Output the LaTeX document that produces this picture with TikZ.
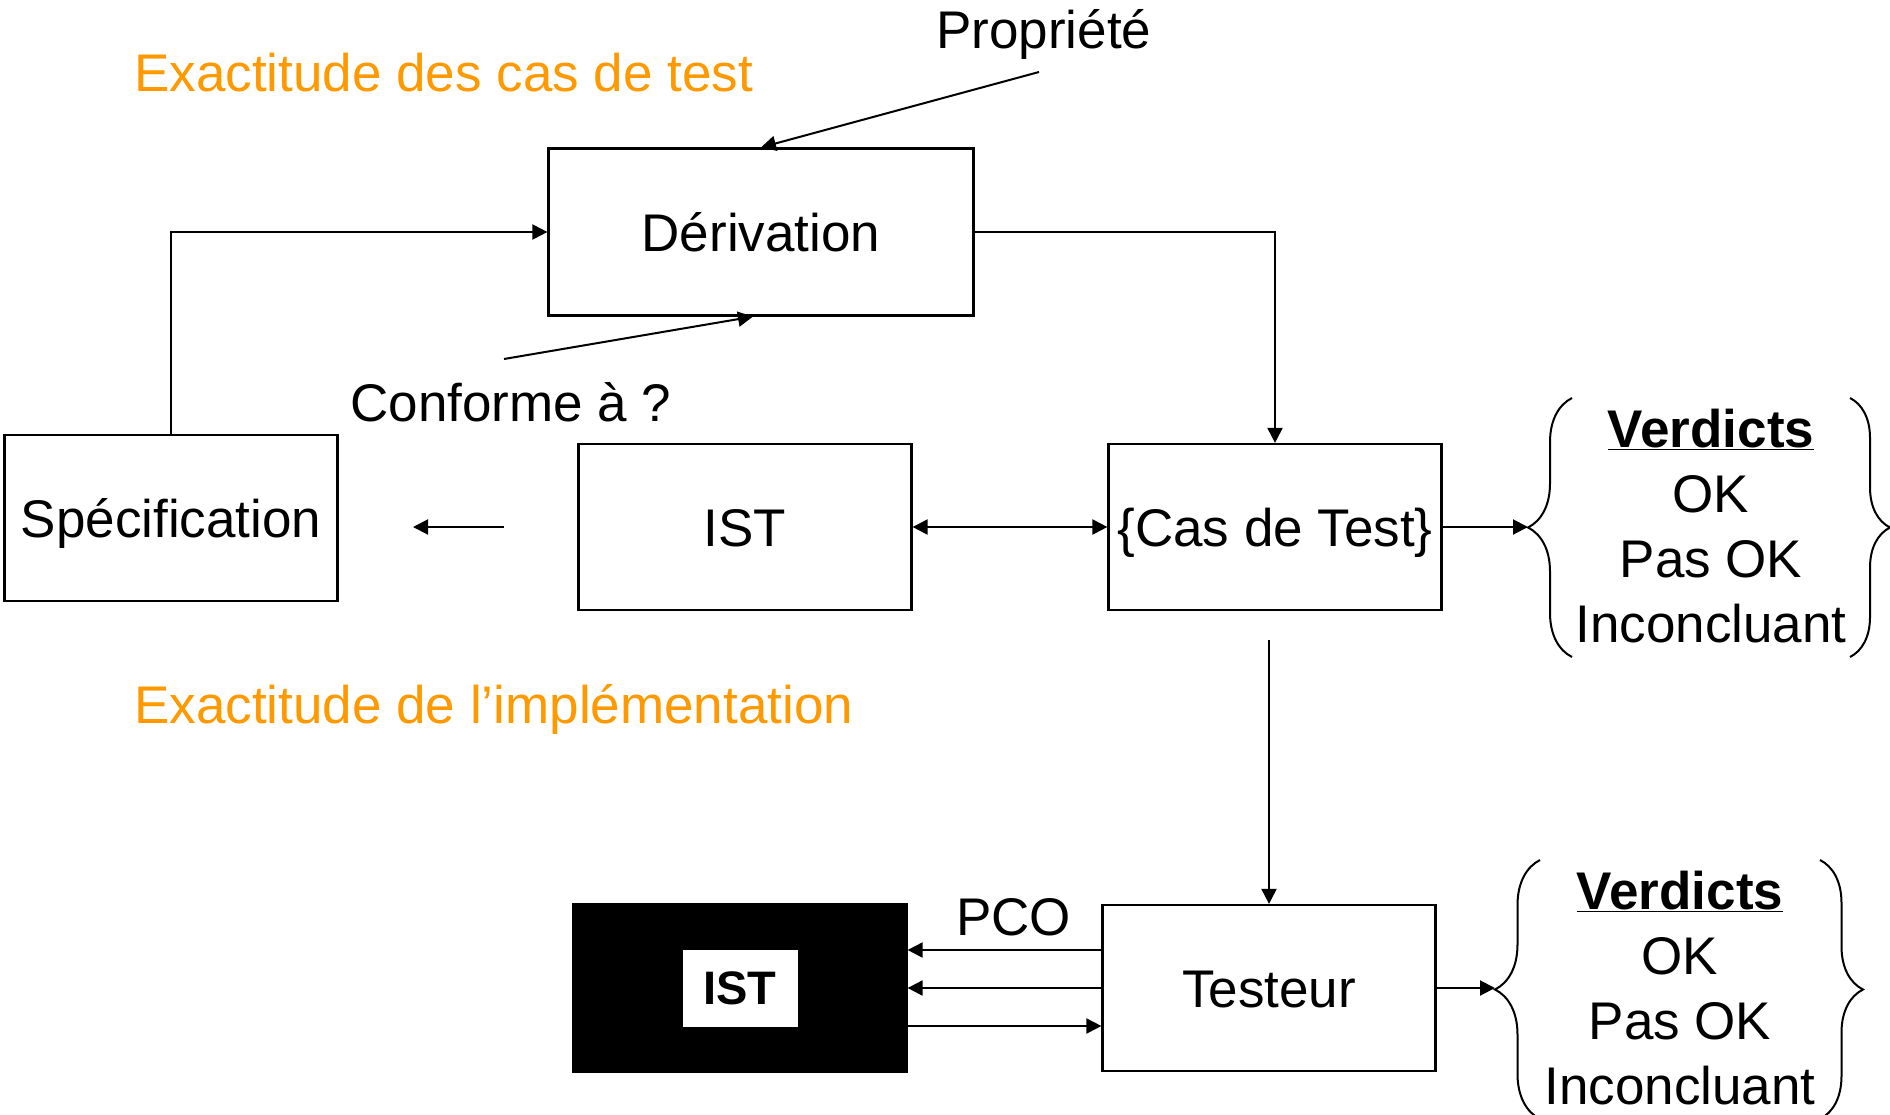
\documentclass[tikz,border=0pt]{standalone}
\usepackage{fontspec}
\setmainfont{Liberation Sans}
\usetikzlibrary{arrows.meta,positioning,decorations.pathreplacing}
\definecolor{titleorange}{RGB}{255,153,0}

\begin{document}
\begin{tikzpicture}[x=1pt, y=-1pt, >={Triangle[length=15pt,width=15pt]}, line width=2pt,
    font=\fontsize{53}{65}\selectfont,
    box/.style={draw, rectangle, line width=2.2pt, minimum width=333pt, minimum height=166pt,
                inner sep=0pt, text height=39pt, text depth=0pt},
    title/.style={anchor=base west, text=titleorange},
    note/.style={anchor=base west},
    verdicts/.style={align=center, inner sep=0pt},
    curly/.style={decorate, decoration={brace, amplitude=#1}}]
    \useasboundingbox (0,0) rectangle (1890,1114);

    \node[box, minimum width=425pt, minimum height=167pt] (derivation) at (761,232) {Dérivation};
    \node[box] (specification) at (171,518) {Spécification};
    \node[box] (ist) at (745,527) {IST};
    \node[box] (cas_test) at (1275,527) {\{Cas de Test\}};
    \node[box] (testeur) at (1269,988) {Testeur};
    \node[box, fill=black, minimum height=168pt] (ist_boite) at (740,988) {};
    \node[fill=white, minimum width=115pt, minimum height=77pt, inner sep=0pt,
          font=\fontsize{47}{56}\selectfont\bfseries] (ist_label) at (ist_boite) {IST};

    \node[title] (titre_cas) at (130,91) {Exactitude des cas de test};
    \node[title] (titre_impl) at (130,723) {Exactitude de l’implémentation};
    \node[note] (propriete) at (932,48) {Propriété};
    \node[note] (conforme) at (346,421) {Conforme à ?};
    \node[note] (pco) at (952,935) {PCO};

    \node[verdicts] (verdicts_cas) at (1711,526) {\underline{\textbf{Verdicts}}\\OK\\Pas OK\\Inconcluant};
    \node[verdicts] (verdicts_testeur) at (1680,988) {\underline{\textbf{Verdicts}}\\OK\\Pas OK\\Inconcluant};

    \coordinate (propriete_pied) at (1039,72);
    \coordinate (conforme_pied) at (504,359);
    \coordinate (retour_debut) at (504,527);
    \coordinate (retour_fin) at (413,527);
    \coordinate (pointe_cas) at (1528,527);
    \coordinate (testeur_entree) at (1269,640);
    \coordinate (pointe_testeur) at (1495,988);

    % accolades
    \draw[curly=44pt] (1572,657) -- (1572,398);
    \draw[curly=40pt] (1850,398) -- (1850,657);
    \draw[curly=45pt] (1540,1119) -- (1540,860);
    \draw[curly=43pt] (1820,860) -- (1820,1119);

    \draw[->] (specification.north) |- (derivation.west);
    \draw[->] (derivation.east) -| (cas_test.north);
    \draw[->] (propriete_pied) -- (derivation.north);
    \draw[->] (conforme_pied) -- ([xshift=-8pt]derivation.south);
    \draw[->] (retour_debut) -- (retour_fin);
    \draw[<->] (ist) -- (cas_test);
    \draw[->] (cas_test.east) -- (pointe_cas);
    \draw[->] (testeur_entree) -- (testeur.north);
    \draw[->] ([yshift=38pt]testeur.west) -- ([yshift=38pt]ist_boite.east);
    \draw[->] (testeur.west) -- (ist_boite.east);
    \draw[<-] ([yshift=-38pt]testeur.west) -- ([yshift=-38pt]ist_boite.east);
    \draw[->] (testeur.east) -- (pointe_testeur);
\end{tikzpicture}
\end{document}
